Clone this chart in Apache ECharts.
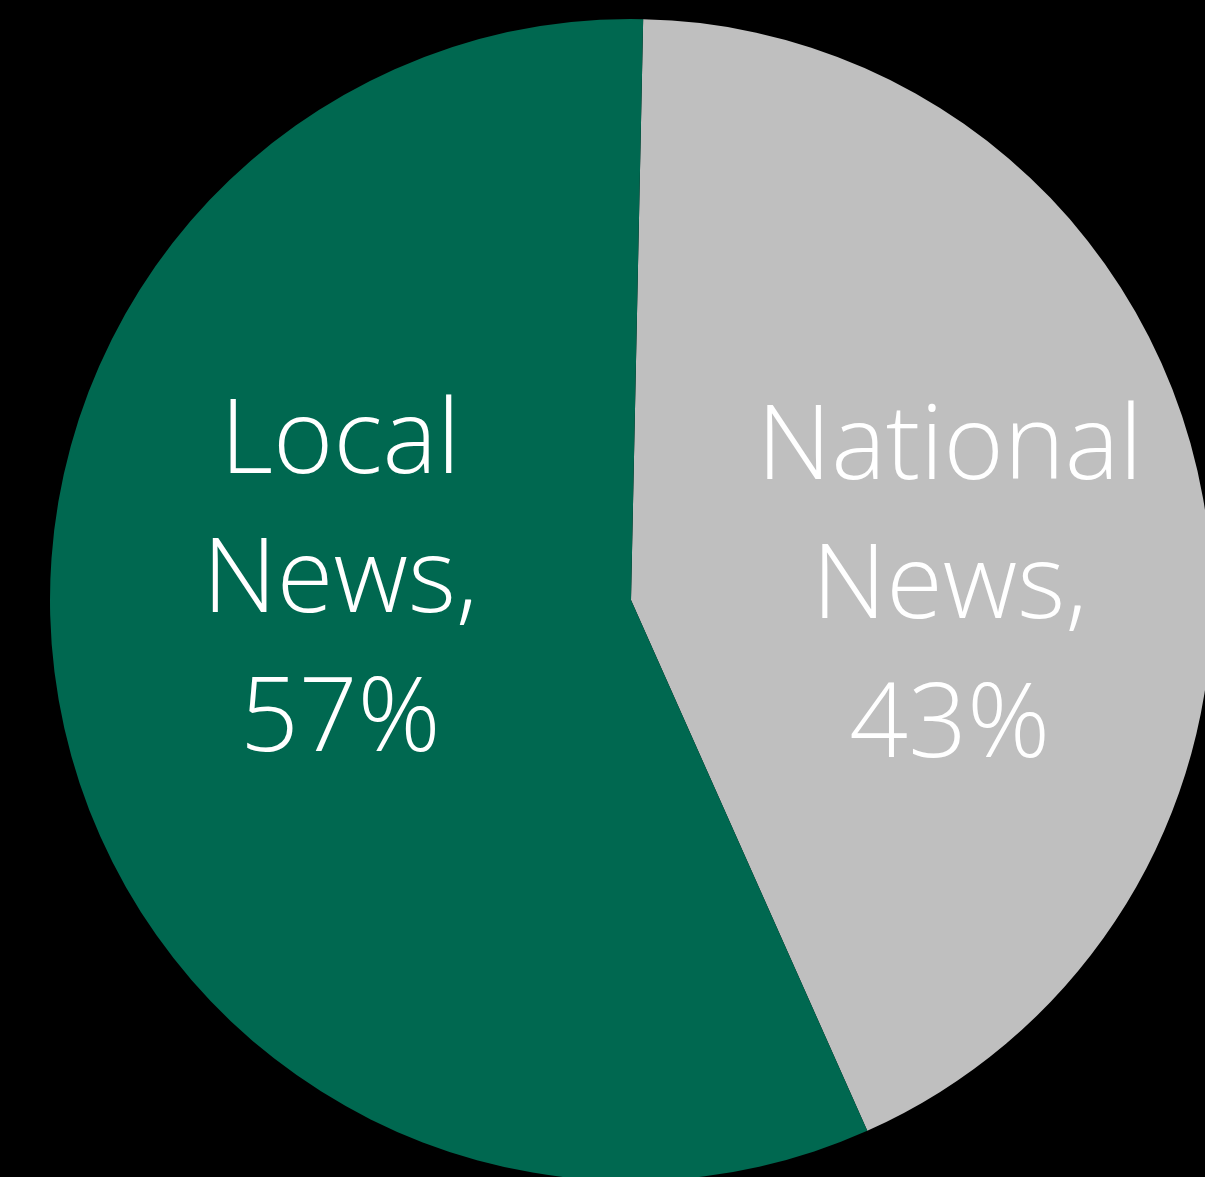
<!DOCTYPE html>
<html>
<head>
<meta charset="utf-8">
<script src="https://cdn.jsdelivr.net/npm/echarts@6/dist/echarts.min.js"></script>
<style>
html,body{margin:0;padding:0;background:#000;}
#chart{width:1205px;height:1177px;}
</style>
</head>
<body>
<div id="chart"></div>
<script>
const categories = ["National News", "Local News"];
const values = [43, 57];
const labelTexts = ["National\nNews,\n43%", "Local\nNews,\n57%"];
const colors = ["#BFBFBF", "#006850"];
const labelOffsets = [[31, 47], [-3, -75]];

const chart = echarts.init(document.getElementById('chart'), null, {renderer: 'canvas'});
chart.setOption({
  backgroundColor: '#000000',
  animation: false,
  series: [{
    type: 'pie',
    center: [631, 600],
    radius: [0, 581],
    startAngle: 88.8,
    clockwise: true,
    silent: true,
    label: {
      show: true,
      position: 'inside',
      color: '#ffffff',
      fontFamily: '"Open Sans"',
      fontWeight: 300,
      fontSize: 103,
      lineHeight: 139,
      align: 'center'
    },
    labelLine: {show: false},
    itemStyle: {borderWidth: 0},
    data: categories.map((c, i) => ({
      name: c,
      value: values[i],
      itemStyle: {color: colors[i]},
      label: {formatter: labelTexts[i], offset: labelOffsets[i]}
    }))
  }]
});
</script>
</body>
</html>
